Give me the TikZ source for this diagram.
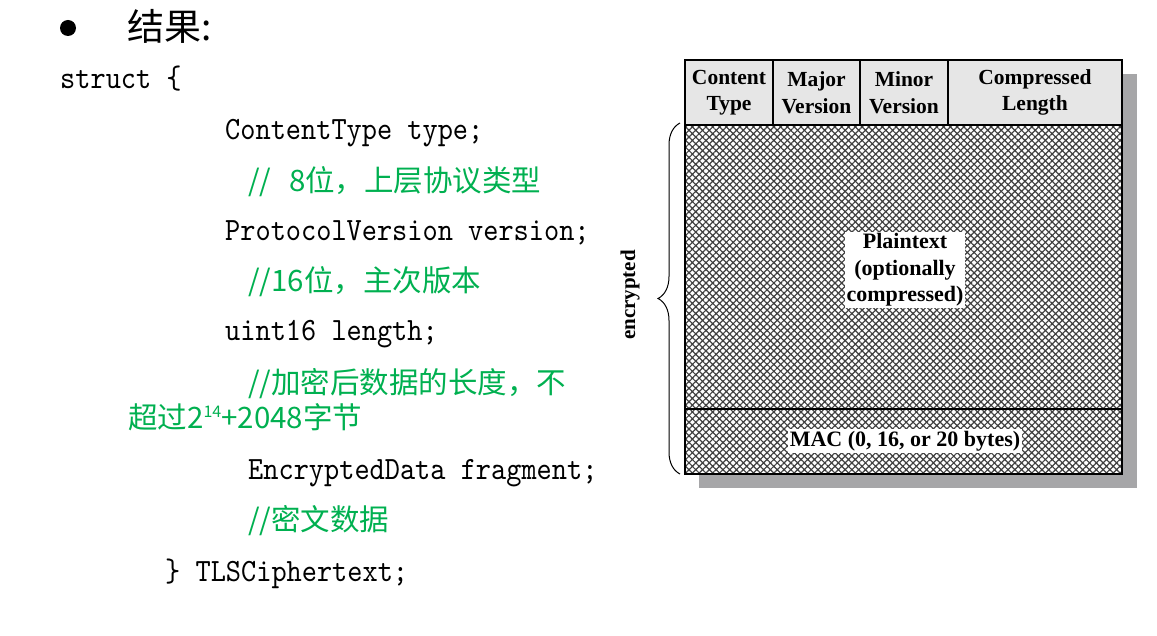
\documentclass[tikz,border=0pt]{standalone}
\usepackage{fontspec}
\setmainfont{Liberation Serif}
\newfontfamily\cjk{Noto Sans CJK SC}
\newfontfamily\codefont[FakeStretch=0.89]{lmmono10-regular.otf}
\usetikzlibrary{patterns.meta,decorations.pathreplacing}
\definecolor{cgreen}{RGB}{0,176,80}
\definecolor{hdr}{RGB}{230,230,230}
\definecolor{shadowgray}{RGB}{166,166,168}
\begin{document}
\begin{tikzpicture}[x=1pt,y=-1pt,
  codetxt/.style={anchor=base west,inner sep=0pt,font=\codefont\fontsize{32.5}{34}\selectfont},
  cmt/.style={anchor=base west,inner sep=0pt,text=cgreen,font=\cjk\fontsize{29.5}{30}\selectfont},
  hdrcell/.style={draw,line width=1.3pt,fill=hdr,minimum height=65pt,inner sep=0pt,align=center,font=\bfseries\fontsize{21.5}{26.5}\selectfont},
  bodycell/.style={draw,line width=1.3pt,minimum width=437pt,inner sep=0pt,
     pattern={Hatch[angle=45,distance=4.8pt,line width=1.2pt]},pattern color=black!75},
  lbl/.style={fill=white,inner sep=2pt,align=center,font=\bfseries\fontsize{22}{26.5}\selectfont}]
\useasboundingbox (0,0) rectangle (1157,636);
% left text
\node[circle,fill=black,inner sep=0pt,minimum size=16pt] (bullet) at (68,28) {};
\node[anchor=base west,inner sep=0pt,font=\cjk\fontsize{37}{40}\selectfont] (title) at (127,41) {结果:};
\node[codetxt] (l1) at (60,89) {struct \{};
\node[codetxt] (l2) at (225,140) {ContentType type;};
\node[cmt] (c1) at (248,192) {//\hspace{0.6em}8位，上层协议类型};
\node[codetxt] (l3) at (225,241) {ProtocolVersion version;};
\node[cmt] (c2) at (248,292) {//16位，主次版本};
\node[codetxt] (l4) at (225,341) {uint16 length;};
\node[cmt] (c3) at (248,393) {//加密后数据的长度，不};
\node[cmt] (c4) at (128,428) {超过2{\fontsize{16}{16}\selectfont\raisebox{10pt}{14}}+2048字节};
\node[codetxt] (l5) at (248,479) {EncryptedData fragment;};
\node[cmt] (c5) at (248,530) {//密文数据};
\node[codetxt] (l6) at (165,581) {\} TLSCiphertext;};
% diagram
\fill[shadowgray] (699,74) rectangle (1137,488);
\fill[white] (685,125) rectangle (1122,474);
\node[bodycell,minimum height=284pt] (plain) at (903.5,267) {};
\node[bodycell,minimum height=65pt] (mac) at (903.5,441.5) {};
\node[hdrcell,minimum width=88pt] (ct) at (729,92.5) {Content\\Type};
\node[hdrcell,minimum width=87pt] (maj) at (816.5,92.5) {Major\\Version};
\node[hdrcell,minimum width=88pt] (min) at (904,92.5) {Minor\\Version};
\node[hdrcell,minimum width=174pt] (len) at (1035,92.5) {Compressed\\Length};
\draw[line width=1.5pt] (685,60) rectangle (1122,474);
\node[lbl] (ptxt) at (905,270) {Plaintext\\(optionally\\compressed)};
\node[lbl] (mtxt) at (905,441) {MAC (0, 16, or 20 bytes)};
\coordinate (bb) at (680,474);
\coordinate (bt) at (680,123);
\draw[line width=1pt,decorate,decoration={brace,amplitude=22pt}] (bb) -- (bt);
\node[rotate=90,font=\bfseries\fontsize{21}{24}\selectfont] (enc) at (630,295) {encrypted};
\end{tikzpicture}
\end{document}
